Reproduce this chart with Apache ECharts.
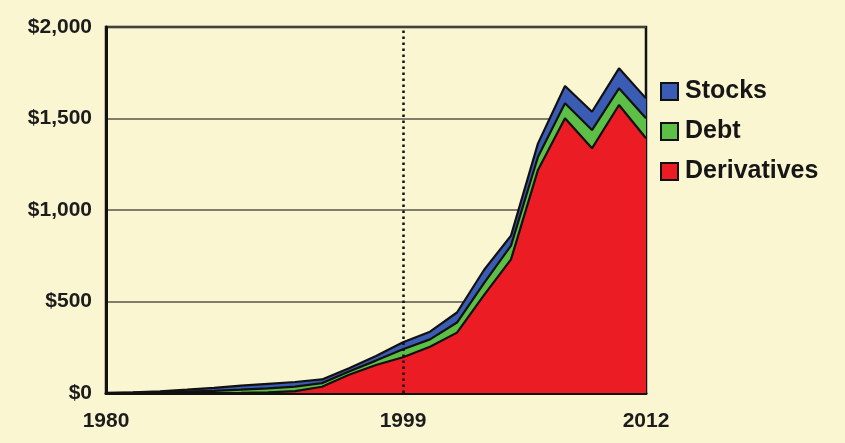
<!DOCTYPE html>
<html>
<head>
<meta charset="utf-8">
<script src="https://cdn.jsdelivr.net/npm/echarts@6/dist/echarts.min.js"></script>
<style>
  html, body { margin: 0; padding: 0; background: #fbf6d2; }
  #chart { width: 845px; height: 443px; }
</style>
</head>
<body>
<div id="chart"></div>
<script>
// Category points (approximate years) along the x axis
const categories = ["1980","1982","1983","1985","1987","1989","1990","1992","1994","1995","1997",
                    "1999","2000","2002","2003","2005","2006","2008","2009","2011","2012"];
// Values in $ billions
const derivatives = [0, 0, 0, 0, 0, 1, 3, 10, 34, 100, 153, 195, 253, 330, 535, 730, 1219, 1501, 1337, 1574, 1392];
const debt        = [0, 1, 4, 8, 12, 17, 22, 25, 20, 18, 24, 44, 40, 55, 65, 75, 72, 82, 100, 91, 109];
const stocks      = [0, 2, 5, 10, 16, 22, 25, 25, 20, 17, 25, 38, 42, 55, 72, 55, 73, 95, 100, 109, 109];
const tickLabels  = ["1980", "1999", "2012"];
const markerYear  = "1999";

const colors = { Stocks: '#3b5cb4', Debt: '#5dbf46', Derivatives: '#ec1c24' };
const chart = echarts.init(document.getElementById('chart'), null, { renderer: 'canvas' });

function areaSeries(name, data, extra) {
  return Object.assign({
    name: name,
    type: 'line',
    stack: 'total',
    data: data,
    symbol: 'none',
    smooth: false,
    lineStyle: { color: '#111', width: 2.2 },
    areaStyle: { color: colors[name], opacity: 1 },
    itemStyle: { color: colors[name], borderColor: '#111', borderWidth: 2 },
    emphasis: { disabled: true },
    z: 2
  }, extra || {});
}

chart.setOption({
  backgroundColor: '#fbf6d2',
  animation: false,
  grid: {
    left: 106, right: 199, top: 27, bottom: 50,
    show: true, borderColor: '#111', borderWidth: 2.5,
    backgroundColor: 'transparent'
  },
  legend: {
    orient: 'vertical',
    left: 655, top: 74,
    itemWidth: 17, itemHeight: 17, itemGap: 15,
    icon: 'rect',
    data: ['Stocks', 'Debt', 'Derivatives'],
    textStyle: { fontFamily: 'Liberation Sans, Arial, sans-serif', fontWeight: 'bold', fontSize: 25, lineHeight: 25, color: '#161616', padding: [0, 0, 0, 2] },
    itemStyle: { borderColor: '#111', borderWidth: 2 }
  },
  xAxis: {
    type: 'category',
    data: categories,
    boundaryGap: false,
    axisLine: { show: true, lineStyle: { color: '#111', width: 3 } },
    axisTick: { show: false },
    splitLine: { show: false },
    axisLabel: {
      interval: function (index, value) { return tickLabels.indexOf(value) >= 0; },
      margin: 18,
      fontFamily: 'Liberation Sans, Arial, sans-serif', fontWeight: 'bold', fontSize: 21, color: '#1c1c1c'
    }
  },
  yAxis: {
    type: 'value',
    min: 0, max: 2000, interval: 500,
    axisLine: { show: true, lineStyle: { color: '#111', width: 3 } },
    axisTick: { show: false },
    splitLine: { show: true, lineStyle: { color: '#56554a', width: 1.6 } },
    axisLabel: {
      margin: 14,
      fontFamily: 'Liberation Sans, Arial, sans-serif', fontWeight: 'bold', fontSize: 21, color: '#1c1c1c',
      formatter: function (v) { return '$' + v.toLocaleString('en-US'); }
    }
  },
  series: [
    areaSeries('Derivatives', derivatives, {
      markLine: {
        silent: true,
        symbol: 'none',
        label: { show: false },
        lineStyle: { color: '#111', type: [2.5, 3.5], width: 2.5 },
        data: [{ xAxis: markerYear }],
        z: 5
      }
    }),
    areaSeries('Debt', debt),
    areaSeries('Stocks', stocks)
  ]
});
</script>
</body>
</html>
